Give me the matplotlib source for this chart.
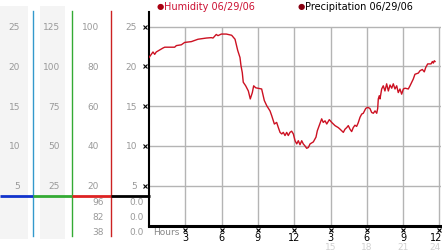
import numpy as np
import matplotlib
matplotlib.use('Agg')
import matplotlib.pyplot as plt

# humidity trace, hours vs value
hours = [0.00, 0.19, 0.33, 0.47, 0.60, 0.88, 1.16, 1.30, 2.12, 2.26, 2.67, 2.95,
         3.50, 4.05, 4.74, 5.15, 5.29, 5.56, 5.70, 5.98, 6.39, 6.83, 7.11, 7.33,
         7.52, 7.60, 7.71, 7.79, 7.99, 8.21, 8.37, 8.54, 8.65, 8.82, 9.31, 9.53,
         9.73, 10.00, 10.14, 10.36, 10.55, 10.69, 10.83, 10.97, 11.10, 11.24, 11.38,
         11.51, 11.65, 11.79, 11.93, 12.07, 12.21, 12.34, 12.48, 12.62, 12.75, 12.89,
         13.03, 13.17, 13.31, 13.58, 13.80, 13.91, 14.07, 14.27, 14.40, 14.55, 14.69,
         14.90, 15.10, 15.37, 15.64, 15.79, 16.06, 16.20, 16.34, 16.47, 16.61, 16.75,
         16.88, 17.02, 17.16, 17.29, 17.44, 17.58, 17.71, 17.91, 18.07, 18.26, 18.40,
         18.54, 18.68, 18.82, 18.90, 18.95, 19.03, 19.09, 19.23, 19.36, 19.50, 19.64,
         19.78, 19.92, 20.06, 20.19, 20.33, 20.47, 20.60, 20.74, 20.88, 21.02, 21.16,
         21.43, 21.57, 21.71, 21.84, 21.98, 22.26, 22.40, 22.59, 22.75, 22.87, 23.03,
         23.31, 23.42, 23.50, 23.58, 23.64]
humidity = [21.1, 21.5, 21.8, 21.5, 21.8, 22.05, 22.3, 22.4, 22.4, 22.6, 22.7, 23.0,
            23.1, 23.4, 23.55, 23.6, 23.55, 24.0, 23.85, 24.05, 24.05, 23.9, 23.4, 22.0,
            21.1, 20.1, 19.2, 18.0, 17.55, 16.9, 15.9, 16.7, 17.55, 17.3, 17.15, 15.7,
            15.05, 14.4, 13.8, 12.75, 12.95, 12.3, 11.7, 11.5, 11.7, 11.3, 11.7,
            11.3, 11.7, 11.85, 11.5, 10.65, 10.25, 10.65, 10.15, 10.65, 10.25, 10.0,
            9.7, 9.8, 10.25, 10.5, 11.1, 11.9, 12.55, 13.4, 12.95, 13.15, 12.75,
            13.3, 12.95, 12.55, 12.3, 12.1, 11.7, 12.1, 12.3, 12.55, 12.1, 11.8,
            12.3, 12.6, 12.45, 12.9, 13.6, 14.0, 14.1, 14.7, 14.85, 14.7, 14.2,
            14.1, 14.4, 14.1, 14.7, 15.9, 16.3, 15.9, 17.15, 17.55, 16.9, 17.8,
            16.9, 17.65, 17.25, 17.8, 17.15, 17.55, 16.7, 17.15, 16.5, 17.15, 17.25,
            17.15, 17.55, 18.0, 18.4, 19.0, 19.15, 19.45, 19.6, 19.3, 19.85, 20.3,
            20.3, 20.6, 20.4, 20.7, 20.6]

y_ticks = [5, 10, 15, 20, 25]
col1_labels = ['5', '10', '15', '20', '25']
col2_labels = ['25', '50', '75', '100', '125']
col3_labels = ['20', '40', '60', '80', '100']
col4_labels = ['5', '10', '15', '20', '25']
extra_col3 = ['96', '82', '38']
extra_col4 = ['0.0', '0.0', '0.0']

x_ticks = [3, 6, 9, 12, 15, 18, 21, 24]
x_labels = ['3', '6', '9', '12', '3', '6', '9', '12']
x_labels2 = ['15', '18', '21', '24']

W, H = 442, 253
fig = plt.figure(figsize=(W / 100, H / 100), dpi=100)
fig.patch.set_facecolor('white')

# plot area in pixels
left_px, right_px, top_px, bot_px = 149, 441, 13, 226.5
px_per_hr = 12.1
px_per_unit = 7.96
xmax = (right_px - left_px) / px_per_hr
ymax = (bot_px - top_px) / px_per_unit
pos = [left_px / W, (H - bot_px) / H, (right_px - left_px) / W, (bot_px - top_px) / H]

ax = fig.add_axes(pos)
ax.set_xlim(0, xmax)
ax.set_ylim(0, ymax)
ax.set_xticks([])
ax.set_yticks([])
for s in ['top', 'right']:
    ax.spines[s].set_visible(False)
ax.spines['left'].set_linewidth(1.5)
ax.spines['bottom'].set_linewidth(2.2)

grid_c = '#b4b4b4'
ax.hlines(y_ticks, 0, xmax, color=grid_c, lw=1, zorder=1)
ax.vlines(x_ticks, 0, 25, color=grid_c, lw=1, zorder=1)

ax.plot(hours, humidity, color='#cc1122', lw=1, zorder=3)

# left-axis tick marks
ax.plot([-0.33] * len(y_ticks), y_ticks, 'x', color='black', ms=2.5, mew=0.8, clip_on=False)

# bottom labels (the last column is squeezed against the right edge)
xt = ax.get_xaxis_transform()
ax.plot(x_ticks, [-0.022] * len(x_ticks), 'x', color='black', ms=2.5, mew=0.8,
        transform=xt, clip_on=False)
for x, lab in zip(x_ticks, x_labels):
    xx = x - 0.25 if x == x_ticks[-1] else x
    ax.text(xx, -0.055, lab, transform=xt, ha='center', va='center', fontsize=7, color='black')
for x, lab in zip(x_ticks[4:], x_labels2):
    xx = x - 0.35 if x == x_ticks[-1] else x
    ax.text(xx, -0.098, lab, transform=xt, ha='center', va='center', fontsize=6.5, color='#d0d0d0')
ax.text(0.3, -0.03, 'Hours', transform=xt, ha='left', va='center', fontsize=6.5, color='#888888')

# side panel, same vertical scale as main axes
side = fig.add_axes([0, pos[1], left_px / W, pos[3]])
side.set_xlim(0, left_px)
side.set_ylim(0, ymax)
side.axis('off')

def val(py):
    return (bot_px - py) / px_per_unit

for x0, x1 in [(0, 28), (40, 65)]:
    side.fill_between([x0, x1], val(240), val(7), color='#f4f4f4', lw=0, clip_on=False, zorder=0)

for x, c in [(33, '#3399cc'), (72, '#33aa33'), (111, '#cc2222')]:
    side.plot([x, x], [val(237), val(12)], color=c, lw=1, clip_on=False, zorder=2)

hy = val(197)
for x0, x1, c in [(0, 33, '#1133cc'), (33, 72, '#33aa33'), (72, 111, '#dd2222'), (111, 149.5, 'black')]:
    side.plot([x0, x1], [hy, hy], color=c, lw=2, solid_capstyle='butt', clip_on=False, zorder=3)

lab_c = '#999999'
for xr, labels in [(20, col1_labels), (60, col2_labels), (99, col3_labels), (137, col4_labels)]:
    for v, lab in zip(y_ticks, labels):
        side.text(xr, v, lab, ha='right', va='center', fontsize=6.5, color=lab_c)

for py, a, b in zip([203, 218, 233], extra_col3, extra_col4):
    side.text(104, val(py), a, ha='right', va='center', fontsize=6.5, color=lab_c)
    side.text(144, val(py), b, ha='right', va='center', fontsize=6.5, color=lab_c)

# legend
fig.text(157 / W, 1 - 7 / H, '\u25cf', color='#aa0011', fontsize=6, va='center')
fig.text(164 / W, 1 - 7 / H, 'Humidity 06/29/06', color='#cc1133', fontsize=7, va='center')
fig.text(298 / W, 1 - 7 / H, '\u25cf', color='#880011', fontsize=6, va='center')
fig.text(305 / W, 1 - 7 / H, 'Precipitation 06/29/06', color='black', fontsize=7, va='center')

fig.savefig('out.png', dpi=100)
